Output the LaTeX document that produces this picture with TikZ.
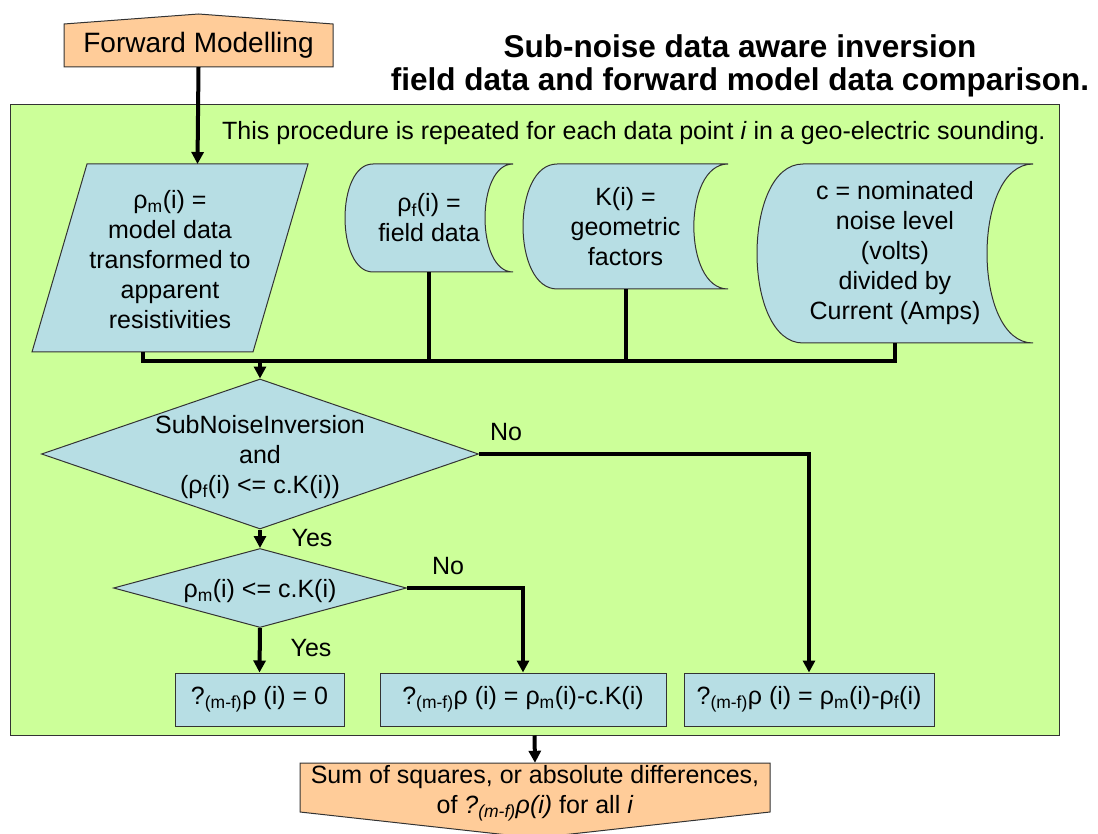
\documentclass[tikz,border=0pt]{standalone}
\usepackage{fontspec}
\setmainfont{Liberation Sans}
\usetikzlibrary{arrows.meta,shapes.geometric,positioning}

\definecolor{panelgreen}{RGB}{204,255,153}
\definecolor{shapeblue}{RGB}{183,222,228}
\definecolor{termorange}{RGB}{255,204,153}

\newcommand{\bodyfont}{\fontsize{25}{30}\selectfont}

% stored-data outline, then its text node: name, cx, cy, w, h, text
\newcommand{\storebox}[6]{%
  \draw[outline, fill=shapeblue]
    ({#2-#4/3},{#3-#5/2}) -- ({#2+#4/2},{#3-#5/2})
    .. controls ({#2+#4/2-2*#4/9},{#3-#5/2}) and ({#2+#4/2-2*#4/9},{#3+#5/2}) .. ({#2+#4/2},{#3+#5/2})
    -- ({#2-#4/3},{#3+#5/2})
    .. controls ({#2-#4/2-#4/18},{#3+#5/2}) and ({#2-#4/2-#4/18},{#3-#5/2}) .. ({#2-#4/3},{#3-#5/2})
    -- cycle;
  \node[textbox, minimum width=#4, minimum height=#5] (#1) at (#2,#3) {#6};
}

\begin{document}
\begin{tikzpicture}[x=1pt, y=-1pt,
    outline/.style={draw=black!80, line width=1pt},
    textbox/.style={align=center, inner sep=0pt, font=\bodyfont},
    panel/.style={outline, fill=panelgreen, minimum width=1049, minimum height=630, inner sep=0pt},
    decision/.style={diamond, outline, fill=shapeblue, inner sep=0pt},
    dtext/.style={textbox, yshift=-3pt},
    result/.style={rectangle, outline, fill=shapeblue, minimum height=53, inner sep=0pt, font=\bodyfont},
    lbl/.style={font=\bodyfont, inner sep=0pt},
    line/.style={line width=4pt, line join=miter},
    arr/.style={line, -{Triangle[width=12pt,length=12pt]}}
  ]
  \useasboundingbox (0,0) rectangle (1098,834);

  % title
  \node[align=center, inner sep=0pt, font=\fontsize{31.5}{33}\selectfont\bfseries] (title) at (740,66)
    {Sub-noise data aware inversion\\field data and forward model data comparison.};

  % start terminal
  \draw[outline, fill=termorange] (64,67) -- (64,24) -- (198.5,14) -- (333,24) -- (333,67) -- cycle;
  \node[inner sep=0pt, minimum width=269, minimum height=43, font=\fontsize{28}{32}\selectfont] (fm) at (198.5,45.5) {Forward Modelling};

  % green panel
  \node[panel] (panel) at (534.5,420) {};
  \node[lbl, anchor=west] (note) at (222,133)
    {This procedure is repeated for each data point \textit{i} in a geo-electric sounding.};

  % model data (parallelogram)
  \draw[outline, fill=shapeblue] (87,164) -- (308,164) -- (253,352) -- (32,352) -- cycle;
  \node[textbox] (pm) at (170,260)
    {ρ\textsubscript{m}(i) =\\model data\\transformed to\\apparent\\resistivities};
  \coordinate (pmtop) at (197.5,164);
  \coordinate (pmfoot) at (142.5,352);

  % stored data
  \storebox{sf}{429}{218}{168}{108}{ρ\textsubscript{f}(i) =\\field data}
  \storebox{sk}{625.5}{226.5}{205}{125}{K(i) =\\geometric\\factors}
  \storebox{sc}{895}{253.5}{276}{179}{c = nominated\\noise level\\(volts)\\divided by\\Current (Amps)}

  % decisions
  \node[decision, minimum width=437, minimum height=150,
        label={[dtext]center:{SubNoiseInversion\\and\\(ρ\textsubscript{f}(i) <= c.K(i))}}] (d1) at (260,454) {};
  \node[decision, minimum width=293, minimum height=79,
        label={[dtext]center:{ρ\textsubscript{m}(i) <= c.K(i)}}] (d2) at (260,588) {};

  % results
  \node[result, minimum width=169] (r1) at (259.5,699.5) {?\textsubscript{(m-f)}ρ (i) = 0};
  \node[result, minimum width=286] (r2) at (523,699.5) {?\textsubscript{(m-f)}ρ (i) = ρ\textsubscript{m}(i)-c.K(i)};
  \node[result, minimum width=250] (r3) at (809,699.5) {?\textsubscript{(m-f)}ρ (i) = ρ\textsubscript{m}(i)-ρ\textsubscript{f}(i)};

  % end terminal
  \draw[outline, fill=termorange] (300,763) -- (770,763) -- (770,812) -- (535,838) -- (300,812) -- cycle;
  \node[textbox, minimum width=470, minimum height=60] (sum) at (535,793)
    {Sum of squares, or absolute differences,\\of \textit{?\textsubscript{(m-f)}ρ(i)} for all \textit{i}};

  % branch labels
  \node[lbl] (no1) at (506,432) {No};
  \node[lbl] (yes1) at (312,538) {Yes};
  \node[lbl] (no2) at (448,566) {No};
  \node[lbl] (yes2) at (311,648) {Yes};

  % connectors
  \coordinate (join) at (260,361);
  \draw[arr] (fm.south) -- (pmtop);
  \draw[line] (pmfoot) |- (join);
  \draw[line] (sf.south) |- (join);
  \draw[line] (sk.south) |- (join);
  \draw[line] (sc.south) |- (join);
  \draw[arr] (join) -- (d1.north);
  \draw[arr] (d1.east) -| (r3.north);
  \draw[arr] (d1.south) -- (d2.north);
  \draw[arr] (d2.east) -| (r2.north);
  \draw[arr] (d2.south) -- (r1.north);
  \draw[arr] (panel.south) -- (sum.north);
\end{tikzpicture}
\end{document}
